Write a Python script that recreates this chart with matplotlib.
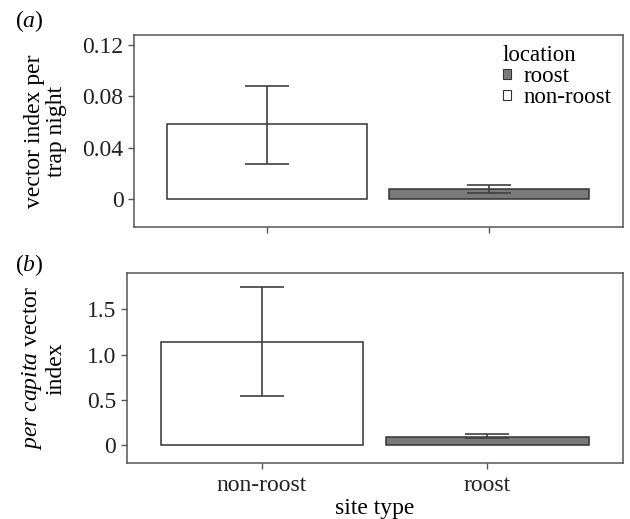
import numpy as np
from matplotlib import pyplot as plt
from matplotlib.patches import Patch

plt.rcParams['font.family'] = ['Liberation Serif', 'DejaVu Serif']
plt.rcParams['mathtext.fontset'] = 'custom'
plt.rcParams['mathtext.rm'] = 'Liberation Serif'
plt.rcParams['mathtext.it'] = 'Liberation Serif:italic'

# data
sites = ['non-roost', 'roost']
trap_mean = [0.0582, 0.0083]
trap_lo = [0.0278, 0.0052]
trap_hi = [0.0883, 0.0115]
capita_mean = [1.138, 0.092]
capita_lo = [0.538, 0.074]
capita_hi = [1.746, 0.118]

fills = ['white', '#7a7a7a']
edge = '#333333'
frame = '#555555'
fs = 17

fig = plt.figure(figsize=(6.3, 5.19), dpi=100)
ax1 = fig.add_axes([0.2127, 0.5632, 0.7757, 0.3688])
ax2 = fig.add_axes([0.2011, 0.1073, 0.7873, 0.3661])

x = np.arange(1, len(sites) + 1)


def draw(ax, mean, lo, hi):
    mean = np.array(mean)
    err = [mean - np.array(lo), np.array(hi) - mean]
    ax.bar(x, mean, width=0.9, color=fills, edgecolor=edge, linewidth=1.1, zorder=2)
    ax.errorbar(x, mean, yerr=err, fmt='none', ecolor='#404040', elinewidth=1.2,
                capsize=16, capthick=1.2, zorder=3)
    ax.set_xlim(0.4, 2.6)
    ax.set_xticks(x)
    for s in ax.spines.values():
        s.set_color(frame)
        s.set_linewidth(1.1)
    ax.tick_params(axis='both', length=4.5, width=1, color=frame, labelsize=fs,
                   labelcolor='#222222', pad=3)


draw(ax1, trap_mean, trap_lo, trap_hi)
ax1.set_ylim(-0.0213, 0.1275)
ax1.set_yticks([0, 0.04, 0.08, 0.12])
ax1.set_yticklabels(['0', '0.04', '0.08', '0.12'])
ax1.set_xticklabels([])
ax1.set_ylabel('vector index per\ntrap night', fontsize=fs, linespacing=1.05)
ax1.yaxis.set_label_coords(-0.137, 0.5)

handles = [Patch(facecolor='#7a7a7a', edgecolor=edge, linewidth=0.8),
           Patch(facecolor='white', edgecolor=edge, linewidth=0.8)]
leg_font = {'family': 'Liberation Serif', 'size': 16.5}
leg = ax1.legend(handles, ['roost', 'non-roost'], title='location', loc='upper right',
                 bbox_to_anchor=(1.0, 1.008), frameon=False, prop=leg_font,
                 title_fontproperties=leg_font, handlelength=0.34, handleheight=0.34,
                 handletextpad=0.55, labelspacing=0.0, borderpad=0,
                 alignment='left')

draw(ax2, capita_mean, capita_lo, capita_hi)
ax2.set_ylim(-0.202, 1.898)
ax2.set_yticks([0, 0.5, 1.0, 1.5])
ax2.set_yticklabels(['0', '0.5', '1.0', '1.5'])
ax2.set_xticklabels(sites)
ax2.tick_params(axis='x', pad=4)
ax2.set_ylabel(r'$\mathit{per\ capita}$ vector' + '\nindex', fontsize=fs, linespacing=1.05)
ax2.yaxis.set_label_coords(-0.122, 0.5)
ax2.set_xlabel('site type', fontsize=fs, labelpad=1)

fig.text(15 / 630, 1 - 21 / 519, r'($\mathit{a}$)', fontsize=fs, va='center', ha='left')
fig.text(15 / 630, 1 - 265 / 519, r'($\mathit{b}$)', fontsize=fs, va='center', ha='left')

fig.savefig('out.png', dpi=100)
